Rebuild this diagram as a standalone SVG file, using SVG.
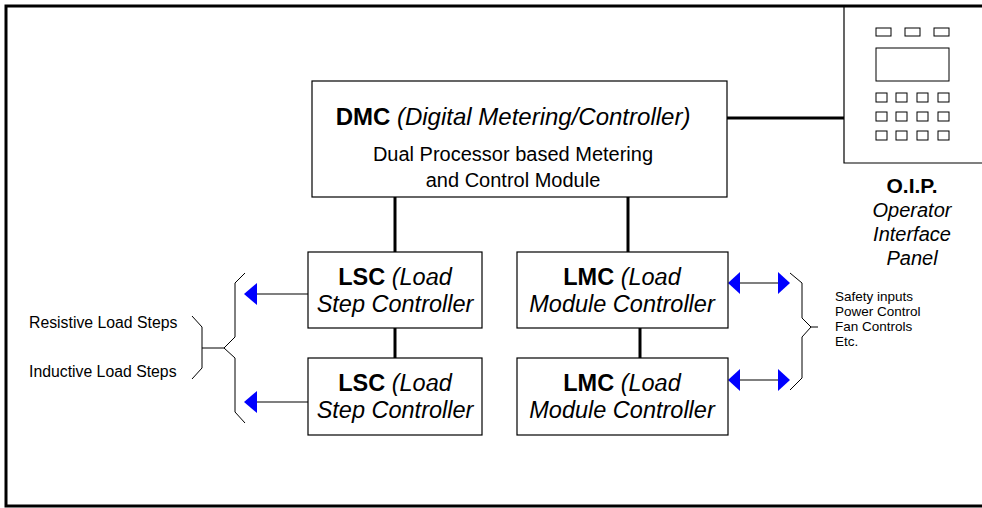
<svg xmlns="http://www.w3.org/2000/svg" width="982" height="508" viewBox="0 0 982 508">
<style>
.box{fill:#fff;stroke:#000;stroke-width:1.2}
.thick{stroke:#000;stroke-width:3;fill:none}
.thin{stroke:#000;stroke-width:1.2;fill:none}
.br{stroke:#000;stroke-width:1;fill:none}
.ah{fill:#0000ff;stroke:none}
.t{font-family:"Liberation Sans",Arial,sans-serif;fill:#000}
.b{font-weight:bold}
.i{font-style:italic}
.btn{fill:#fff;stroke:#000;stroke-width:1}
</style>
<rect x="6" y="6" width="1000" height="500" fill="#fff" stroke="#000" stroke-width="3"/>

<g id="oip">
  <path d="M844 6 V163 H982" class="thin"/>
  <rect x="876" y="28" width="15" height="8" class="btn"/>
  <rect x="905" y="28" width="15" height="8" class="btn"/>
  <rect x="934" y="28" width="15" height="8" class="btn"/>
  <rect x="876" y="48" width="73" height="33" class="btn"/>
  <rect x="876" y="93" width="11" height="9" class="btn"/>
  <rect x="896" y="93" width="11" height="9" class="btn"/>
  <rect x="917" y="93" width="11" height="9" class="btn"/>
  <rect x="938" y="93" width="11" height="9" class="btn"/>
  <rect x="876" y="112" width="11" height="9" class="btn"/>
  <rect x="896" y="112" width="11" height="9" class="btn"/>
  <rect x="917" y="112" width="11" height="9" class="btn"/>
  <rect x="938" y="112" width="11" height="9" class="btn"/>
  <rect x="876" y="131" width="11" height="9" class="btn"/>
  <rect x="896" y="131" width="11" height="9" class="btn"/>
  <rect x="917" y="131" width="11" height="9" class="btn"/>
  <rect x="938" y="131" width="11" height="9" class="btn"/>
  <text class="t b" x="912" y="193" font-size="21" text-anchor="middle">O.I.P.</text>
  <text class="t i" x="912" y="217" font-size="20" text-anchor="middle">Operator</text>
  <text class="t i" x="912" y="241" font-size="20" text-anchor="middle">Interface</text>
  <text class="t i" x="912" y="265" font-size="20" text-anchor="middle">Panel</text>
</g>

<g id="connectors">
  <line x1="727" y1="118" x2="844" y2="118" class="thick"/>
  <line x1="395" y1="197" x2="395" y2="252" class="thick"/>
  <line x1="628" y1="197" x2="628" y2="252" class="thick"/>
  <line x1="395" y1="328" x2="395" y2="358" class="thick"/>
  <line x1="640" y1="328" x2="640" y2="358" class="thick"/>
  <line x1="308" y1="294" x2="250" y2="294" class="thin"/>
  <polygon points="244,294 257,283 257,305" class="ah"/>
  <line x1="308" y1="402" x2="250" y2="402" class="thin"/>
  <polygon points="244,402 257,391 257,413" class="ah"/>
  <line x1="730" y1="283" x2="788" y2="283" class="thin"/>
  <polygon points="728,283 740,272 740,294" class="ah"/>
  <polygon points="790,283 778,272 778,294" class="ah"/>
  <line x1="730" y1="380" x2="788" y2="380" class="thin"/>
  <polygon points="728,380 740,369 740,391" class="ah"/>
  <polygon points="790,380 778,369 778,391" class="ah"/>
  <path d="M245 273 L235 283 V337 L224 348 L235 358 V412 L245 423" class="br"/>
  <path d="M192 316 L202 327 V368 L192 379" class="br"/>
  <line x1="202" y1="348" x2="224" y2="348" class="br"/>
  <path d="M790 273 L802 283 V318 L811 327 L802 337 V378 L790 390" class="br"/>
  <line x1="811" y1="327" x2="818" y2="327" class="br"/>
</g>

<g id="dmc">
  <rect x="312" y="81" width="415" height="116" class="box"/>
  <text class="t" x="513" y="125" font-size="24" text-anchor="middle"><tspan class="b">DMC</tspan><tspan class="i"> (Digital Metering/Controller)</tspan></text>
  <text class="t" x="513" y="161" font-size="20" text-anchor="middle">Dual Processor based Metering</text>
  <text class="t" x="513" y="187" font-size="20" text-anchor="middle">and Control Module</text>
</g>

<g id="lsc1">
  <rect x="308" y="252" width="174" height="76" class="box"/>
  <text class="t" x="395" y="285" font-size="23.5" text-anchor="middle"><tspan class="b">LSC</tspan><tspan class="i"> (Load</tspan></text>
  <text class="t i" x="395" y="312" font-size="23.5" text-anchor="middle">Step Controller</text>
</g>
<g id="lsc2">
  <rect x="308" y="358" width="174" height="77" class="box"/>
  <text class="t" x="395" y="391" font-size="23.5" text-anchor="middle"><tspan class="b">LSC</tspan><tspan class="i"> (Load</tspan></text>
  <text class="t i" x="395" y="418" font-size="23.5" text-anchor="middle">Step Controller</text>
</g>
<g id="lmc1">
  <rect x="517" y="252" width="211" height="76" class="box"/>
  <text class="t" x="622" y="285" font-size="23.5" text-anchor="middle"><tspan class="b">LMC</tspan><tspan class="i"> (Load</tspan></text>
  <text class="t i" x="622" y="312" font-size="23.5" text-anchor="middle">Module Controller</text>
</g>
<g id="lmc2">
  <rect x="517" y="358" width="211" height="77" class="box"/>
  <text class="t" x="622" y="391" font-size="23.5" text-anchor="middle"><tspan class="b">LMC</tspan><tspan class="i"> (Load</tspan></text>
  <text class="t i" x="622" y="418" font-size="23.5" text-anchor="middle">Module Controller</text>
</g>

<g id="load-steps">
  <text class="t" x="29" y="328" font-size="15.8">Resistive Load Steps</text>
  <text class="t" x="29" y="377" font-size="15.8">Inductive Load Steps</text>
</g>
<g id="lmc-io">
  <text class="t" x="835" y="301" font-size="13.5">Safety inputs</text>
  <text class="t" x="835" y="316" font-size="13.5">Power Control</text>
  <text class="t" x="835" y="331" font-size="13.5">Fan Controls</text>
  <text class="t" x="835" y="346" font-size="13.5">Etc.</text>
</g>
</svg>
